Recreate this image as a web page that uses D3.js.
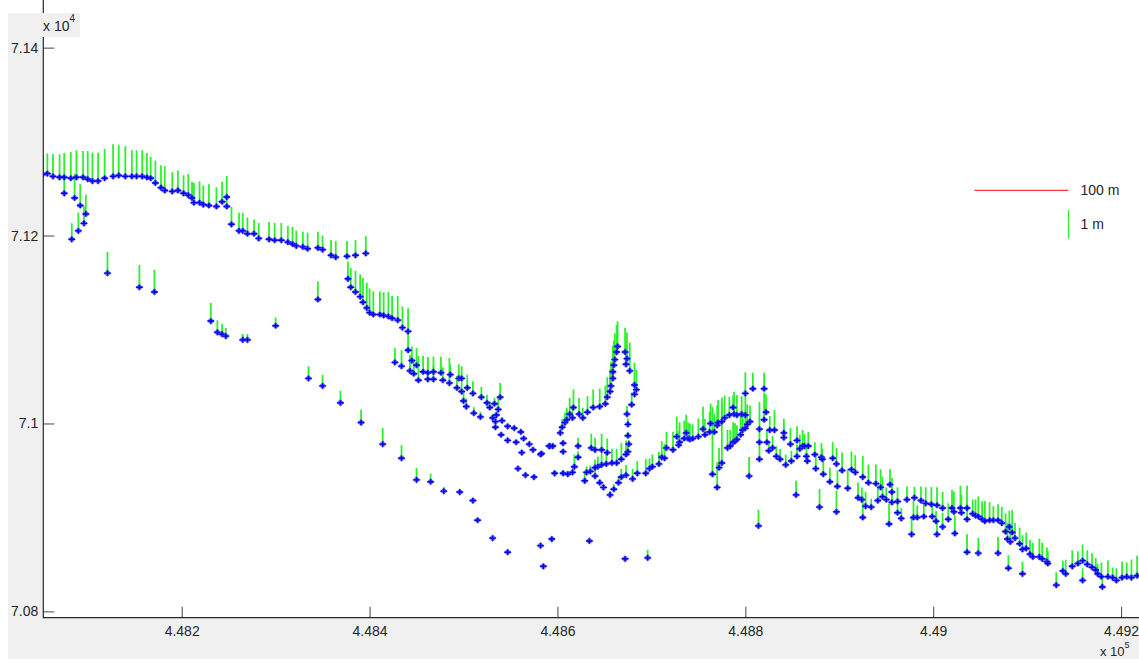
<!DOCTYPE html>
<html>
<head>
<meta charset="utf-8">
<script src="https://cdn.jsdelivr.net/npm/d3@7"></script>
<style>
  body { margin: 0; background: #fff; }
  text { font-family: "Liberation Sans", Arial, sans-serif; }
</style>
</head>
<body>
<svg id="chart" width="1139" height="659"></svg>
<script>
// points: [easting, northing, vertical offset in metres]
const topTrack = [[448052,71265,0.61],[448057,71266,0.71],[448063,71263,0.79],[448070,71262,0.82],[448075,71262,0.86],[448082,71261,0.93],[448088,71262,0.96],[448095,71262,0.93],[448100,71260,1.00],[448105,71258,1.00],[448111,71258,1.00],[448118,71261,1.04],[448127,71263,1.14],[448133,71264,1.07],[448140,71263,1.07],[448147,71263,0.93],[448152,71263,0.93],[448158,71263,0.93],[448163,71262,0.86],[448167,71261,0.75],[448172,71256,0.79],[448178,71251,0.79],[448182,71248,0.86],[448190,71247,0.68],[448196,71248,0.71],[448202,71245,0.64],[448207,71243,0.75],[448211,71240,0.57],[448213,71235,0.71],[448219,71235,0.75],[448223,71233,0.68],[448229,71232,0.75],[448237,71231,0.68],[448243,71236,0.71],[448248,71241,0.75],[448248,71231,0.36],[448253,71212,0.61],[448261,71205,0.64],[448265,71205,0.64],[448270,71202,0.57],[448277,71202,0.50],[448282,71197,0.54],[448293,71196,0.61],[448299,71195,0.61],[448306,71195,0.61],[448313,71193,0.57],[448318,71191,0.61],[448322,71189,0.54],[448329,71188,0.54],[448334,71186,0.57],[448345,71187,0.57],[448350,71185,0.50],[448359,71179,0.54],[448364,71177,0.57],[448376,71178,0.54],[448385,71179,0.54],[448396,71181,0.61]];

const leftBranch = [[448075,71245,0.64],[448086,71240,0.86],[448092,71232,0.75],[448098,71223,0.68],[448096,71213,0.61],[448090,71205,0.64],[448083,71196,0.57]];

const lowerTrack = [[448121,71160,0.75],[448155,71145,0.79],[448171,71140,0.79],[448231,71109,0.64],[448238,71097,0.43],[448243,71095,0.36],[448247,71093,0.29],[448265,71089,0.21],[448270,71089,0.21],[448300,71104,0.29],[448345,71132,0.64],[448335,71048,0.43],[448350,71040,0.39],[448369,71022,0.43],[448391,71001,0.46],[448414,70978,0.57],[448434,70963,0.46],[448450,70940,0.43],[448465,70938,0.29],[448479,70928,0.14],[448496,70927,0.11],[448510,70918,0.04],[448515,70897,0.07],[448531,70878,0.04],[448547,70863,0.04],[448582,70870,0.00],[448585,70848,0.07],[448594,70877,0.04],[448634,70875,0.02],[448672,70856,0.04],[448696,70857,0.29]];

const midTrack = [[448377,71154,0.61],[448380,71145,0.68],[448385,71140,0.75],[448390,71135,0.79],[448393,71129,0.86],[448397,71123,0.89],[448400,71118,0.86],[448404,71116,0.82],[448411,71116,0.82],[448415,71115,0.82],[448420,71114,0.86],[448424,71112,0.79],[448430,71110,0.86],[448435,71102,0.75],[448441,71098,0.82],[448441,71078,0.64],
  [448427,71065,0.50],[448434,71061,0.57],[448443,71056,0.57],[448445,71067,0.50],[448447,71053,0.43],[448450,71062,0.61],[448452,71046,0.86],[448457,71055,0.57],[448462,71054,0.54],[448462,71047,0.79],[448468,71055,0.54],[448468,71047,0.50],[448476,71054,0.57],[448478,71046,0.46],[448485,71043,0.89],[448486,71052,0.36],[448493,71038,0.43],[448495,71048,0.50],[448498,71048,0.43],[448498,71034,0.36],[448500,71024,0.29],[448504,71038,0.46],[448503,71018,0.29],[448510,71032,0.43],[448511,71011,0.21],[448518,71007,0.18],[448519,71028,0.36],[448525,71022,0.29],[448528,71017,0.21],[448533,71021,0.21],[448537,71015,0.43],[448539,71028,0.50],[448531,71006,0.14],[448534,71002,0.14],[448535,71009,0.11],[448541,71003,0.11],[448534,70996,0.07],[448540,70988,0.04],[448547,70997,0.04],[448554,70995,0.04],[448561,70991,0.07],[448547,70982,0.04],[448556,70980,0.04],[448564,70984,0.04],[448570,70978,0.04],[448574,70972,0.07],[448562,70969,0.04],[448582,70967,0.04],[448591,70976,0.04],[448558,70952,0.04],[448566,70945,0.04],[448575,70943,0.07]];

const loopTrack = [[448583,70968,0.00],[448592,70976,0.04],[448595,70976,0.04],[448606,70979,0.07],[448606,70970,0.07],[448603,70990,0.14],[448605,70996,0.29],[448608,71001,0.36],[448610,71004,0.43],[448613,71010,0.57],[448616,71006,0.43],[448617,71017,0.64],[448623,71010,0.57],[448627,71006,0.36],[448632,71012,0.57],[448638,71017,0.64],[448645,71018,0.64],[448651,71021,0.64],[448653,71028,0.71],[448656,71034,0.79],[448657,71040,0.86],[448659,71048,0.93],[448659,71055,0.93],[448660,71062,0.86],[448661,71068,0.93],[448663,71076,0.96],[448664,71082,0.89],[448672,71076,0.86],[448674,71069,0.93],[448673,71063,0.93],[448677,71056,1.00],[448682,71041,0.79],[448684,71036,0.71],[448682,71031,0.36],[448679,71020,0.43],[448674,71010,0.29],[448675,70999,0.21],[448675,70987,0.14],[448676,70978,0.14],[448675,70970,0.21],[448673,70967,0.50],[448668,70962,0.57],[448663,70958,0.50],[448658,70958,0.50],[448652,70957,0.43],[448647,70956,0.43],[448643,70954,0.36],[448640,70953,0.29],[448635,70949,0.21],[448631,70948,0.21],[448597,70947,0.11],[448606,70947,0.11],[448611,70946,0.11],[448616,70948,0.14],[448618,70954,0.43],[448629,70939,0.29],[448640,70944,0.29],[448645,70937,0.14],[448649,70932,0.11],[448656,70924,0.14],[448660,70930,0.18],[448665,70937,0.21],[448668,70943,0.29],[448673,70945,0.36],[448680,70941,0.36],[448685,70947,0.43],[448694,70947,0.50],[448698,70952,0.36],[448701,70954,0.43],[448708,70957,0.43],[448711,70964,0.57],[448716,70974,0.57],[448723,70972,0.64],[448727,70986,0.71],[448730,70980,0.71],[448737,70990,0.64],[448739,70984,0.57],[448636,70974,0.50],[448640,70972,0.43],[448647,70972,0.57],[448653,70969,0.50],[448622,70976,0.29],[448622,70964,0.21]];

const ridgeTrack = [[448714,70963,0.50],[448729,70977,0.50],[448735,70984,0.64],[448741,70983,0.57],[448744,70984,0.50],[448750,70986,0.64],[448755,70994,0.79],[448757,70988,0.57],[448762,70991,0.71],[448763,71000,0.71],[448767,70991,0.64],[448770,70998,0.71],[448771,71001,0.79],[448775,71002,0.64],[448778,71006,0.79],[448783,71009,0.64],[448788,71010,0.79],[448791,71009,0.71],[448796,71010,0.64],[448800,71009,0.71],[448805,71002,0.57],[448787,71017,0.43],[448800,71032,0.75],[448808,71037,0.57],[448820,71037,0.57],[448765,70946,2.39],[448770,70932,0.89],[448772,70953,0.71],[448775,70958,2.32],[448781,70974,0.64],[448784,70976,0.57],[448787,70980,0.71],[448789,70981,0.64],[448791,70983,0.50],[448795,70988,0.71],[448797,70993,0.50],[448800,70995,0.64],[448802,70999,0.71],[448804,70944,0.68],[448815,70962,0.57],[448815,70980,0.43],[448815,70994,0.96],[448820,71004,0.96],[448822,71012,0.64],[448826,70993,0.50],[448831,70993,0.71],[448823,70980,0.43],[448825,70971,0.36],[448829,70974,0.43],[448833,70965,0.36],[448837,70962,0.36],[448841,70990,0.50],[448841,70985,0.43],[448843,70956,0.36],[448848,70978,0.57],[448849,70960,0.36],[448855,70982,0.50],[448855,70965,0.43],[448858,70973,0.50],[448861,70976,0.57],[448863,70976,0.43],[448865,70965,0.36],[448866,70960,0.29],[448867,70976,0.50],[448874,70967,0.43],[448875,70952,0.43],[448881,70964,0.50],[448882,70962,0.36],[448883,70946,0.50],[448814,70891,0.57],[448854,70924,0.50],[448879,70911,0.64]];

const eastTrack = [[448893,70963,0.57],[448897,70957,0.57],[448903,70950,0.64],[448913,70951,0.64],[448917,70948,0.61],[448909,70931,0.68],[448925,70943,0.75],[448920,70921,0.54],[448924,70919,0.43],[448931,70937,0.64],[448939,70936,0.68],[448928,70912,0.50],[448934,70911,0.29],[448944,70932,0.64],[448946,70922,0.71],[448941,70918,0.50],[448954,70935,0.54],[448956,70927,0.50],[448950,70919,0.43],[448956,70916,0.36],[448925,70900,0.75],[448897,70906,0.75],[448962,70917,0.50],[448962,70905,0.43],[448966,70899,0.36],[448972,70919,0.46],[448980,70921,0.39],[448987,70918,0.50],[448992,70915,0.57],[448998,70914,0.61],[449004,70913,0.64],[448979,70900,0.61],[448983,70900,0.43],[448990,70901,0.43],[448999,70901,0.50],[449003,70896,0.36],[448953,70893,0.71],[448977,70882,0.61],[449004,70882,0.50],[448890,70938,0.50],[448898,70933,0.57],
  [449010,70890,0.50],[449010,70910,0.57],[449016,70898,0.57],[449020,70910,0.64],[449022,70906,0.71],[449023,70883,0.64],[449029,70910,0.79],[449030,70905,0.64],[449036,70910,0.79],[449036,70898,0.57],[449036,70863,0.64],[449042,70904,0.50],[449045,70902,0.57],[449048,70901,0.71],[449048,70862,0.54],[449052,70898,0.64],[449055,70896,0.71],[449060,70897,0.64],[449064,70897,0.50],[449069,70897,0.57],[449069,70862,0.57],[449073,70894,0.57],[449077,70885,0.64],[449081,70890,0.57],[449084,70884,0.79],[449079,70877,0.57],[449082,70874,0.64],[449087,70878,0.54],[449080,70846,0.46],[449092,70872,0.57],[449095,70866,0.50],[449099,70867,0.57],[449103,70861,0.50],[449106,70858,0.50],[449095,70840,0.43],[449113,70858,0.64],[449116,70856,0.57],[449121,70853,0.50],[449122,70851,0.43],[449131,70828,0.46],[449138,70843,0.36],[449141,70840,0.50],[449148,70848,0.57],[449154,70851,0.43],[449159,70854,0.57],[449159,70833,0.43],[449164,70850,0.50],[449169,70847,0.50],[449173,70844,0.43],[449175,70840,0.36],[449179,70837,0.50],[449180,70826,0.43],[449186,70837,0.57],[449191,70836,0.36],[449195,70833,0.43],[449201,70836,0.57],[449206,70837,0.50],[449211,70836,0.64],[449217,70838,0.71]];

const xTicks = [448200, 448400, 448600, 448800, 449000, 449200];
const yTicks = [70800, 71000, 71200, 71400];
const vecScale = 30; // map units drawn per metre of offset

const points = [].concat(topTrack, leftBranch, lowerTrack, midTrack, loopTrack, ridgeTrack, eastTrack);

const W = 1139, H = 659;
const left = 43.3, bottom = 617.7;
const svg = d3.select('#chart');

const x = d3.scaleLinear().domain([448052.7, 449220]).range([left, 1139.9]);
const y = d3.scaleLinear().domain([70793.3, 71450.7]).range([bottom, 0]);

// figure background (grey) and axes area (white)
svg.append('rect').attr('x', 8).attr('y', 13).attr('width', W - 8).attr('height', H - 13).attr('fill', '#f0f0f0');
svg.append('rect').attr('x', left).attr('y', 0).attr('width', W - left).attr('height', bottom).attr('fill', '#fff');

svg.append('clipPath').attr('id', 'plotclip')
  .append('rect').attr('x', left).attr('y', 0).attr('width', W - left).attr('height', bottom);

const plot = svg.append('g').attr('clip-path', 'url(#plotclip)');

// vertical offset sticks
plot.append('g')
  .selectAll('line')
  .data(points)
  .join('line')
  .attr('x1', d => x(d[0]))
  .attr('x2', d => x(d[0]))
  .attr('y1', d => y(d[1]))
  .attr('y2', d => y(d[1] + d[2] * vecScale))
  .attr('stroke', '#2af22a')
  .attr('stroke-width', 1.8);

// point markers
const marks = plot.append('g')
  .selectAll('g')
  .data(points)
  .join('g')
  .attr('transform', d => `translate(${x(d[0])},${y(d[1])})`);
marks.append('path')
  .attr('d', 'M-4,0L0,-3.6L4,0L0,3.6Z')
  .attr('fill', '#3c3cff')
  .attr('opacity', 0.75);
marks.append('path')
  .attr('d', 'M-3.2,0H3.2M0,-2.6V2.6')
  .attr('stroke', '#0000e6')
  .attr('stroke-width', 1.4)
  .attr('fill', 'none');

// legend (scale bars)
const legE = 449044, legN = 71248;
svg.append('line')
  .attr('x1', x(legE)).attr('x2', x(legE + 100))
  .attr('y1', y(legN)).attr('y2', y(legN))
  .attr('stroke', '#ff3535').attr('stroke-width', 1.3);
svg.append('text')
  .attr('x', x(legE + 100) + 12).attr('y', y(legN)).attr('dy', '0.35em')
  .attr('font-size', 14).attr('fill', '#262626').text('100 m');
const legN2 = 71197;
svg.append('line')
  .attr('x1', x(legE + 100)).attr('x2', x(legE + 100))
  .attr('y1', y(legN2)).attr('y2', y(legN2 + vecScale))
  .attr('stroke', '#2af22a').attr('stroke-width', 1.3);
svg.append('text')
  .attr('x', x(legE + 100) + 12).attr('y', y(legN2 + vecScale / 2)).attr('dy', '0.35em')
  .attr('font-size', 14).attr('fill', '#262626').text('1 m');

// axes
const xAxis = d3.axisBottom(x)
  .tickValues(xTicks)
  .tickFormat(d => String(+(d / 1e5).toFixed(4)))
  .tickSize(-11)
  .tickSizeOuter(0)
  .tickPadding(8);
svg.append('g')
  .attr('transform', `translate(0,${bottom})`)
  .call(xAxis)
  .call(g => g.select('.domain').remove())
  .call(g => g.selectAll('line').attr('stroke', '#444'))
  .call(g => g.selectAll('text').attr('font-size', 14).attr('fill', '#262626')
    .attr('font-family', '"Liberation Sans", Arial, sans-serif'));

const yAxis = d3.axisLeft(y)
  .tickValues(yTicks)
  .tickFormat(d => String(+(d / 1e4).toFixed(4)))
  .tickSize(-11)
  .tickSizeOuter(0)
  .tickPadding(5);
svg.append('g')
  .attr('transform', `translate(${left},0)`)
  .call(yAxis)
  .call(g => g.select('.domain').remove())
  .call(g => g.selectAll('line').attr('stroke', '#444'))
  .call(g => g.selectAll('text').attr('font-size', 14).attr('fill', '#262626')
    .attr('font-family', '"Liberation Sans", Arial, sans-serif'));

// axis lines
svg.append('line').attr('x1', left).attr('x2', left).attr('y1', 0).attr('y2', bottom + 0.5)
  .attr('stroke', '#262626').attr('stroke-width', 1.2);
svg.append('line').attr('x1', left).attr('x2', W).attr('y1', bottom).attr('y2', bottom)
  .attr('stroke', '#262626').attr('stroke-width', 1.2);

// exponent labels
svg.append('rect').attr('x', 8).attr('y', 13).attr('width', 72).attr('height', 24).attr('fill', '#f0f0f0');
const e4 = svg.append('text').attr('x', 43).attr('y', 31).attr('font-size', 14).attr('fill', '#262626');
e4.append('tspan').text('x 10');
e4.append('tspan').attr('dy', -9).attr('font-size', 10).text('4');
const e5 = svg.append('text').attr('x', 1100).attr('y', 656).attr('font-size', 13).attr('fill', '#262626');
e5.append('tspan').text('x 10');
e5.append('tspan').attr('dy', -8).attr('font-size', 9).text('5');
</script>
</body>
</html>
